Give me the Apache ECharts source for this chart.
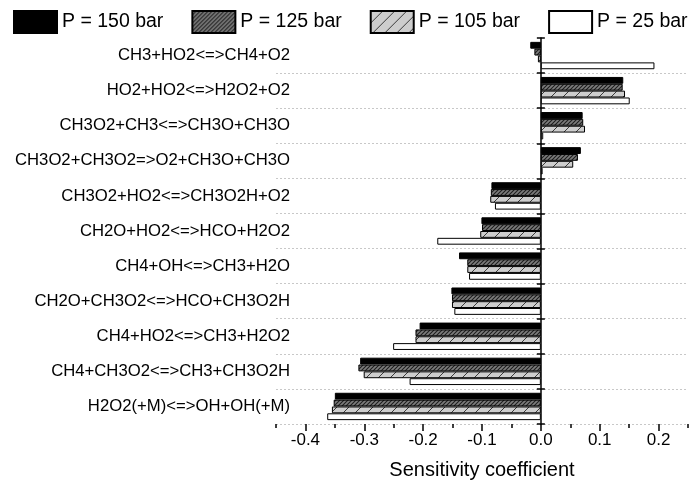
<!DOCTYPE html>
<html>
<head>
<meta charset="utf-8">
<script src="https://cdn.jsdelivr.net/npm/echarts@6/dist/echarts.min.js"></script>
<style>
  html, body { margin: 0; padding: 0; background: #fff; }
  #chart { width: 692px; height: 488px; }
</style>
</head>
<body>
<div id="chart"></div>
<script>
// reactions, top to bottom
const categories = [
  'CH3+HO2<=>CH4+O2',
  'HO2+HO2<=>H2O2+O2',
  'CH3O2+CH3<=>CH3O+CH3O',
  'CH3O2+CH3O2=>O2+CH3O+CH3O',
  'CH3O2+HO2<=>CH3O2H+O2',
  'CH2O+HO2<=>HCO+H2O2',
  'CH4+OH<=>CH3+H2O',
  'CH2O+CH3O2<=>HCO+CH3O2H',
  'CH4+HO2<=>CH3+H2O2',
  'CH4+CH3O2<=>CH3+CH3O2H',
  'H2O2(+M)<=>OH+OH(+M)'
]

const seriesNames = ['P = 150 bar', 'P = 125 bar', 'P = 105 bar', 'P = 25 bar']

const p150 = [-0.018, 0.140, 0.071, 0.068, -0.084, -0.101, -0.139, -0.152, -0.206, -0.307, -0.350]
const p125 = [-0.011, 0.139, 0.072, 0.063, -0.085, -0.100, -0.125, -0.151, -0.213, -0.310, -0.352]
const p105 = [-0.005, 0.143, 0.075, 0.055, -0.086, -0.103, -0.125, -0.151, -0.213, -0.301, -0.355]
const p25 = [0.193, 0.151, 0.004, 0.003, -0.078, -0.176, -0.122, -0.147, -0.251, -0.223, -0.363]

const majorTicks = [-0.4, -0.3, -0.2, -0.1, 0, 0.1, 0.2]
const minorTicks = [-0.45, -0.35, -0.25, -0.15, -0.05, 0.05, 0.15, 0.25]

const FONT = 'Liberation Sans, Arial, sans-serif'

// diagonal "/" hatch tile
function hatch(size, base, line, width) {
  const c = document.createElement('canvas')
  c.width = size
  c.height = size
  const ctx = c.getContext('2d')
  ctx.fillStyle = base
  ctx.fillRect(0, 0, size, size)
  ctx.strokeStyle = line
  ctx.lineWidth = width
  ctx.beginPath()
  ctx.moveTo(-1, size + 1)
  ctx.lineTo(size + 1, -1)
  ctx.moveTo(-1, 1)
  ctx.lineTo(1, -1)
  ctx.moveTo(size - 1, size + 1)
  ctx.lineTo(size + 1, size - 1)
  ctx.stroke()
  return { image: c, repeat: 'repeat' }
}

const fills = [
  '#000',
  hatch(4, '#7c7c7c', '#1e1e1e', 1.1),
  hatch(12, '#cdcdcd', '#3a3a3a', 1),
  '#fff'
]

const chart = echarts.init(document.getElementById('chart'))

function bar(i, data) {
  return {
    name: seriesNames[i],
    type: 'bar',
    xAxisIndex: 0,
    yAxisIndex: 0,
    data: data,
    barGap: '0%',
    barCategoryGap: '22%',
    itemStyle: {
      color: fills[i],
      borderColor: '#000',
      borderWidth: 1
    }
  }
}

const option = {
  animation: false,
  backgroundColor: '#fff',
  textStyle: { fontFamily: FONT },
  legend: {
    top: 10,
    left: 13,
    width: 679,
    padding: 0,
    itemWidth: 43,
    itemHeight: 22,
    itemGap: 28,
    icon: 'rect',
    textStyle: { fontSize: 19.5, color: '#000', fontFamily: FONT },
    data: seriesNames
  },
  grid: {
    left: 276,
    right: 4,
    top: 38,
    bottom: 64,
    containLabel: false
  },
  xAxis: [
    {
      type: 'value',
      position: 'bottom',
      min: -0.45,
      max: 0.25,
      axisLine: { onZero: false, lineStyle: { color: '#000', width: 1.5 } },
      axisTick: { show: true, length: 4, customValues: minorTicks, lineStyle: { color: '#000', width: 1.5 } },
      axisLabel: { show: false },
      splitLine: { show: false }
    },
    {
      type: 'value',
      position: 'bottom',
      min: -0.45,
      max: 0.25,
      name: 'Sensitivity coefficient',
      nameLocation: 'middle',
      nameGap: 36,
      nameTextStyle: { fontSize: 20, color: '#000', fontFamily: FONT },
      axisLine: { show: false, onZero: false },
      axisTick: { show: true, length: 7, customValues: majorTicks, lineStyle: { color: '#000', width: 1.5 } },
      axisLabel: {
        customValues: majorTicks,
        fontSize: 17,
        color: '#000',
        margin: 8,
        fontFamily: FONT,
        formatter: v => v.toFixed(1)
      },
      splitLine: { show: false }
    }
  ],
  yAxis: [
    {
      type: 'category',
      data: categories,
      inverse: true,
      offset: -14,
      axisLine: { show: false, onZero: false },
      axisTick: { show: false },
      axisLabel: { fontSize: 16.7, color: '#000', margin: 0, fontFamily: FONT },
      splitLine: {
        show: true,
        interval: (i) => i > 0,
        lineStyle: { color: '#c8c8c8', type: [2, 2], width: 1 }
      }
    },
    {
      type: 'category',
      data: categories,
      inverse: true,
      position: 'left',
      axisLine: { show: true, onZero: true, onZeroAxisIndex: 0, lineStyle: { color: '#000', width: 1.5 } },
      axisTick: { show: true, length: 4, lineStyle: { color: '#000', width: 1.5 } },
      axisLabel: { show: false },
      splitLine: { show: false }
    },
    {
      type: 'category',
      data: categories,
      inverse: true,
      position: 'left',
      axisLine: { show: false, onZero: true, onZeroAxisIndex: 0 },
      axisTick: { show: true, inside: true, length: 4, lineStyle: { color: '#000', width: 1.5 } },
      axisLabel: { show: false },
      splitLine: { show: false }
    }
  ],
  series: [
    bar(0, p150),
    bar(1, p125),
    bar(2, p105),
    bar(3, p25)
  ]
}

chart.setOption(option)
</script>
</body>
</html>
